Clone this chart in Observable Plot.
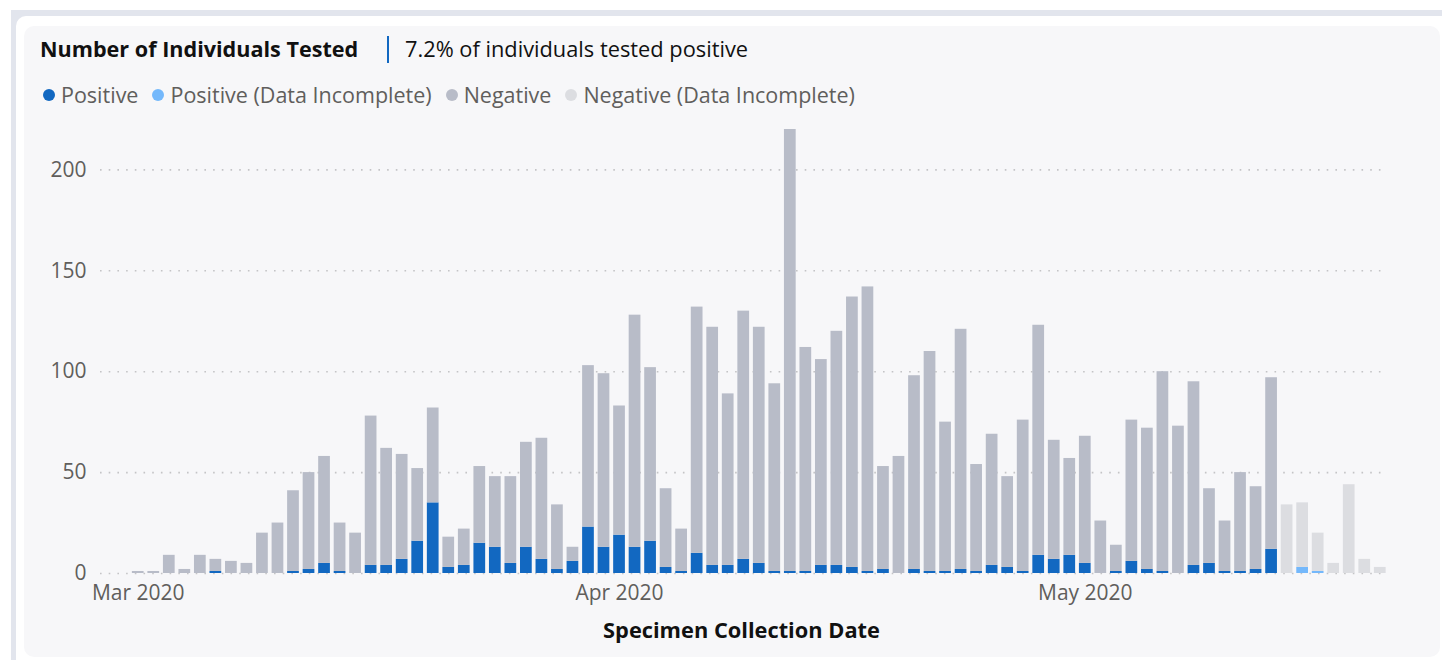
<!DOCTYPE html>
<html>
<head>
<meta charset="utf-8">
<script src="https://cdn.jsdelivr.net/npm/d3@7"></script>
<script src="https://cdn.jsdelivr.net/npm/@observablehq/plot@0.6"></script>
<style>
  html, body { margin: 0; padding: 0; }
  body { width: 1442px; height: 660px; background: #ffffff; position: relative; overflow: hidden;
         font-family: "Segoe UI", "Open Sans", sans-serif; }
  #frame { position: absolute; left: 11px; top: 10px; width: 1431px; height: 650px; background: #e2e5ed; }
  #inner { position: absolute; left: 16px; top: 16px; width: 1426px; height: 644px; background: #ffffff; border-top-left-radius: 10px; }
  #card { position: absolute; left: 24px; top: 26px; width: 1416px; height: 631px; background: #f7f7f9; border-radius: 10px; }
  #title { position: absolute; left: 40px; top: 34px; font-size: 21.6px; font-weight: 700; color: #111; white-space: nowrap; }
  #sep { position: absolute; left: 387px; top: 36px; width: 2px; height: 27px; background: #1268c1; }
  #subtitle { position: absolute; left: 405px; top: 34px; font-size: 21.8px; color: #111; white-space: nowrap; }
  #legend { position: absolute; left: 43px; top: 80px; display: flex; align-items: center; font-size: 21.5px; color: #605e5c; white-space: nowrap; }
  .item { display: flex; align-items: center; margin-right: 14px; }
  .dot { width: 12px; height: 12px; border-radius: 50%; margin-right: 6px; }
  #chart { position: absolute; left: 24px; top: 115px; }
  #xlabel { position: absolute; left: 100px; width: 1283px; top: 615px; text-align: center; font-size: 21.8px; font-weight: 700; color: #111; }
</style>
</head>
<body>
<div id="frame"></div>
<div id="inner"></div>
<div id="card"></div>
<div id="title">Number of Individuals Tested</div>
<div id="sep"></div>
<div id="subtitle">7.2% of individuals tested positive</div>
<div id="legend"></div>
<div id="chart"></div>
<div id="xlabel">Specimen Collection Date</div>
<script>
// ---- data ----
const dates = [
  "2020-03-01","2020-03-02","2020-03-03","2020-03-04","2020-03-05","2020-03-06","2020-03-07","2020-03-08","2020-03-09","2020-03-10",
  "2020-03-11","2020-03-12","2020-03-13","2020-03-14","2020-03-15","2020-03-16","2020-03-17","2020-03-18","2020-03-19","2020-03-20",
  "2020-03-21","2020-03-22","2020-03-23","2020-03-24","2020-03-25","2020-03-26","2020-03-27","2020-03-28","2020-03-29","2020-03-30",
  "2020-03-31","2020-04-01","2020-04-02","2020-04-03","2020-04-04","2020-04-05","2020-04-06","2020-04-07","2020-04-08","2020-04-09",
  "2020-04-10","2020-04-11","2020-04-12","2020-04-13","2020-04-14","2020-04-15","2020-04-16","2020-04-17","2020-04-18","2020-04-19",
  "2020-04-20","2020-04-21","2020-04-22","2020-04-23","2020-04-24","2020-04-25","2020-04-26","2020-04-27","2020-04-28","2020-04-29",
  "2020-04-30","2020-05-01","2020-05-02","2020-05-03","2020-05-04","2020-05-05","2020-05-06","2020-05-07","2020-05-08","2020-05-09",
  "2020-05-10","2020-05-11","2020-05-12","2020-05-13","2020-05-14","2020-05-15","2020-05-16","2020-05-17","2020-05-18","2020-05-19",
  "2020-05-20"
];
const positive = [
  0,0,0,0,0,1,0,0,0,0,
  1,2,5,1,0,4,4,7,16,35,
  3,4,15,13,5,13,7,2,6,23,
  13,19,13,16,3,1,10,4,4,7,
  5,1,1,1,4,4,3,1,2,0,
  2,1,1,2,1,4,3,1,9,7,
  9,5,0,1,6,2,1,0,4,5,
  1,1,2,12,0,3,1,0,0,0,
  0
];
const negative = [
  1,1,9,2,9,6,6,5,20,25,
  40,48,53,24,20,74,58,52,36,47,
  15,18,38,35,43,52,60,32,7,80,
  86,64,115,86,39,21,122,118,85,123,
  117,93,219,111,102,116,134,141,51,58,
  96,109,74,119,53,65,45,75,114,59,
  48,63,26,13,70,70,99,73,91,37,
  25,49,41,85,34,32,19,5,44,7,
  3
];
const incompleteFrom = "2020-05-14";
const seriesNames = ["Positive", "Positive (Data Incomplete)", "Negative", "Negative (Data Incomplete)"];
const seriesColors = ["#1268c1", "#74b8fb", "#b8bcc8", "#dcdde1"];
const yTicks = [0, 50, 100, 150, 200];
const xTicks = ["2020-03-01", "2020-04-01", "2020-05-01"];
const xTickLabels = ["Mar 2020", "Apr 2020", "May 2020"];

// ---- build table ----
const DAY = 864e5;
const rows = [];
dates.forEach((s, i) => {
  const d = new Date(s + "T00:00:00Z");
  const inc = s >= incompleteFrom;
  rows.push({date: d, series: inc ? seriesNames[1] : seriesNames[0], y1: 0, y2: positive[i]});
  rows.push({date: d, series: inc ? seriesNames[3] : seriesNames[2], y1: positive[i], y2: positive[i] + negative[i]});
});
const xTickDates = xTicks.map(s => new Date(s + "T00:00:00Z"));
const tickLabelMap = new Map(xTickDates.map((d, i) => [+d, xTickLabels[i]]));

// ---- legend ----
const legend = document.getElementById("legend");
seriesNames.forEach((name, i) => {
  const it = document.createElement("div");
  it.className = "item";
  const dot = document.createElement("div");
  dot.className = "dot";
  dot.style.background = seriesColors[i];
  const t = document.createElement("span");
  t.textContent = name;
  it.appendChild(dot); it.appendChild(t);
  legend.appendChild(it);
});

// ---- chart ----
const chart = Plot.plot({
  width: 1416,
  height: 545,
  marginLeft: 76,
  marginRight: 57,
  marginTop: 14,
  marginBottom: 87,
  style: {background: "transparent", fontFamily: "'Segoe UI', 'Open Sans', sans-serif", fontSize: "21px", color: "#605e5c", overflow: "visible"},
  x: {type: "utc", domain: [new Date("2020-02-27T13:40:00Z"), new Date("2020-05-20T05:00:00Z")]},
  y: {domain: [0, 220]},
  color: {domain: seriesNames, range: seriesColors},
  marks: [
    Plot.gridY(yTicks, {stroke: "#c4c4c6", strokeOpacity: 1, strokeWidth: 1.6, strokeDasharray: "1.6 7.1"}),
    Plot.rect(rows.filter(r => r.y2 > r.y1), {
      x1: d => new Date(+d.date - DAY / 2),
      x2: d => new Date(+d.date + DAY / 2),
      y1: "y1", y2: "y2", fill: "series",
      insetLeft: 1.9, insetRight: 1.9
    }),
    Plot.axisY(yTicks, {tickSize: 0, tickPadding: 14, fill: "#605e5c", fontSize: 21, label: null}),
    Plot.axisX(xTickDates, {tickSize: 0, tickPadding: 12, fill: "#605e5c", fontSize: 21, label: null,
      tickFormat: d => tickLabelMap.get(+d)})
  ]
});
document.getElementById("chart").appendChild(chart);
</script>
</body>
</html>
